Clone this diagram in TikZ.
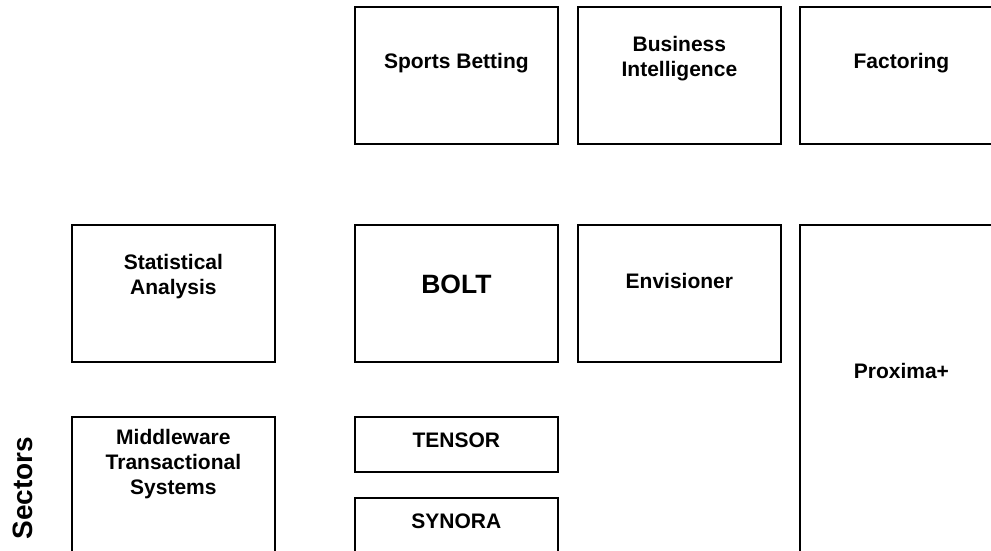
\documentclass[tikz,border=0pt]{standalone}
\usepackage{fontspec}
\setmainfont{Liberation Sans}
\usetikzlibrary{positioning}

\begin{document}
\begin{tikzpicture}[x=1pt,y=-1pt,
	sector/.style={draw=black, line width=1.8pt, inner sep=0pt, anchor=north west,
		minimum width=203pt, minimum height=137pt},
	slim/.style={sector, minimum height=55pt},
	tall/.style={sector, minimum height=340pt},
	caption/.style={align=center, inner sep=0pt, anchor=center,
		font=\fontsize{21}{25}\selectfont\bfseries}]
\clip (0,0) rectangle (991,551);
% top row
\node[sector] (sb) at (354,6) {};
\node[sector] (bi) at (577,6) {};
\node[sector] (fa) at (799,6) {};
\node[caption] (sbt) [below=57pt of sb.north, anchor=center] {Sports Betting};
\node[caption] (bit) [below=53pt of bi.north, anchor=center] {Business\\Intelligence};
\node[caption] (fat) [below=57pt of fa.north, anchor=center] {Factoring};
% middle row
\node[sector] (sa) at (71,224) {};
\node[sector] (bolt) at (354,224) {};
\node[sector] (env) at (577,224) {};
\node[tall] (prox) at (799,224) {};
\node[caption] (sat) [below=52.5pt of sa.north, anchor=center] {Statistical\\Analysis};
\node[caption, font=\fontsize{26.5}{30}\selectfont\bfseries] (boltt) [below=60pt of bolt.north, anchor=center] {BOLT};
\node[caption] (envt) [below=56.5pt of env.north, anchor=center] {Envisioner};
\node[caption] (proxt) [below=147pt of prox.north, anchor=center] {Proxima+};
% bottom row
\node[sector] (mw) at (71,416) {};
\node[slim] (ten) at (354,416) {};
\node[slim, minimum height=80pt] (syn) at (354,497) {};
\node[caption] (mwt) [below=48.5pt of mw.north, anchor=center] {Middleware\\Transactional\\Systems};
\node[caption] (tent) [below=24pt of ten.north, anchor=center] {TENSOR};
\node[caption] (synt) [below=24.5pt of syn.north, anchor=center] {SYNORA};
% side label
\node[rotate=90, inner sep=0pt, font=\fontsize{28}{32}\selectfont\bfseries] (sectors) at (23,488) {Sectors};
\end{tikzpicture}
\end{document}
